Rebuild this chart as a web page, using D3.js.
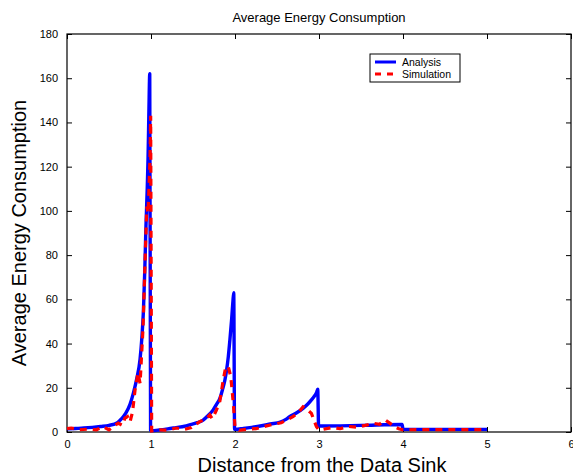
<!DOCTYPE html>
<html>
<head>
<meta charset="utf-8">
<script src="https://cdn.jsdelivr.net/npm/d3@7"></script>
<style>
  html, body { margin: 0; padding: 0; background: #fff; }
  svg { display: block; font-family: "Liberation Sans", Arial, Helvetica, sans-serif; }
</style>
</head>
<body>
<svg id="chart" width="573" height="476"></svg>
<script>
// Analysis curve: distance from sink vs. average energy consumption
const analysisX = [0.00, 0.10, 0.20, 0.30, 0.40, 0.50, 0.60, 0.65, 0.70, 0.75, 0.79, 0.83, 0.87, 0.89, 0.91, 0.925, 0.94, 0.955, 0.965, 0.975, 0.985, 0.995,
                   1.00, 1.10, 1.20, 1.30, 1.40, 1.46, 1.55, 1.62, 1.68, 1.74, 1.78, 1.82, 1.85, 1.88, 1.90, 1.92, 1.94, 1.96, 1.975, 1.985, 1.995,
                   2.00, 2.10, 2.20, 2.30, 2.42, 2.54, 2.60, 2.65, 2.73, 2.81, 2.87, 2.91, 2.95, 2.97, 2.985, 2.995,
                   3.00, 3.50, 3.99, 4.00, 5.00];
const analysisY = [1.4, 1.6, 1.8, 2.1, 2.5, 3.0, 4.2, 6.0, 8.5, 12.5, 17.6, 24, 33, 42, 55, 72, 93, 110, 124, 145, 162, 0.8,
                   0.6, 0.9, 1.4, 2.0, 2.6, 3.2, 4.2, 5.4, 7.5, 10, 12.5, 15.2, 19, 23.5, 28, 34, 42, 51, 59, 63, 1.2,
                   1.2, 1.6, 2.1, 2.7, 3.6, 4.5, 5.6, 6.9, 8.6, 10.7, 12.8, 14.5, 16.5, 17.8, 19.4, 2.7,
                   2.7, 3.0, 3.4, 1.2, 1.2];

// Simulation results
const simulationX = [0.00, 0.05, 0.15, 0.25, 0.35, 0.43, 0.50, 0.55, 0.61, 0.66, 0.69, 0.72, 0.75, 0.78, 0.81, 0.845, 0.87, 0.905, 0.93, 0.95, 0.965, 0.98, 0.988, 0.996, 1.008,
                     1.10, 1.20, 1.30, 1.40, 1.48, 1.58, 1.66, 1.70, 1.73, 1.78, 1.82, 1.86, 1.89, 1.92, 1.95, 1.98, 2.00, 2.05,
                     2.15, 2.25, 2.35, 2.46, 2.55, 2.62, 2.69, 2.75, 2.81, 2.85, 2.91, 2.97, 3.00,
                     3.05, 3.15, 3.25, 3.35, 3.45, 3.55, 3.65, 3.72, 3.79, 3.85, 3.88, 3.95, 4.00,
                     4.50, 5.00];
const simulationY = [1.5, 1.8, 1.0, 1.3, 1.0, 2.4, 1.0, 2.5, 4.0, 3.0, 6.3, 7.0, 4.5, 9.0, 19, 26.7, 22, 47, 78, 102, 99, 115, 123, 143, 0.5,
                     1.0, 0.8, 1.8, 1.2, 2.0, 4.7, 6.0, 7.7, 6.0, 10, 14, 23.5, 29.5, 29.5, 25, 13, 2.4, 0.8,
                     1.3, 1.5, 2.5, 3.5, 4.2, 5.5, 7.0, 8.5, 11.4, 10.5, 8.4, 2.4, 1.0,
                     1.2, 2.0, 1.5, 2.5, 2.2, 3.0, 3.9, 3.5, 5.4, 3.8, 2.7, 1.5, 1.0,
                     1.1, 1.1];

const xTicks = [0, 1, 2, 3, 4, 5, 6];
const yTicks = [0, 20, 40, 60, 80, 100, 120, 140, 160, 180];

const seriesNames = ["Analysis", "Simulation"];
const titleText = "Average Energy Consumption";
const xLabel = "Distance from the Data Sink";
const yLabel = "Average Energy Consumption";

const svg = d3.select("#chart");
const plot = { left: 67, right: 571, top: 34, bottom: 432 };

const x = d3.scaleLinear().domain([0, 6]).range([plot.left, plot.right]);
const y = d3.scaleLinear().domain([0, 180]).range([plot.bottom, plot.top]);

const tickLen = 5;

// Axes with inward ticks on all four sides
svg.append("g")
  .attr("transform", `translate(0,${plot.bottom})`)
  .call(d3.axisBottom(x).tickValues(xTicks).tickSizeInner(-tickLen).tickSizeOuter(0).tickPadding(8).tickFormat(d3.format("d")))
  .call(g => g.select(".domain").remove())
  .call(g => g.selectAll("text").attr("font-size", 11).attr("fill", "#000").attr("font-family", "Liberation Sans, Arial, sans-serif"));

svg.append("g")
  .attr("transform", `translate(0,${plot.top})`)
  .call(d3.axisTop(x).tickValues(xTicks).tickSizeInner(-tickLen).tickSizeOuter(0).tickFormat(""))
  .call(g => g.select(".domain").remove());

svg.append("g")
  .attr("transform", `translate(${plot.left},0)`)
  .call(d3.axisLeft(y).tickValues(yTicks).tickSizeInner(-tickLen).tickSizeOuter(0).tickPadding(9).tickFormat(d3.format("d")))
  .call(g => g.select(".domain").remove())
  .call(g => g.selectAll("text").attr("font-size", 11).attr("fill", "#000").attr("font-family", "Liberation Sans, Arial, sans-serif"));

svg.append("g")
  .attr("transform", `translate(${plot.right},0)`)
  .call(d3.axisRight(y).tickValues(yTicks).tickSizeInner(-tickLen).tickSizeOuter(0).tickFormat(""))
  .call(g => g.select(".domain").remove());

svg.selectAll(".tick line").attr("stroke", "#000");

// Box around the plot area
svg.append("rect")
  .attr("x", plot.left).attr("y", plot.top)
  .attr("width", plot.right - plot.left).attr("height", plot.bottom - plot.top)
  .attr("fill", "none").attr("stroke", "#000").attr("stroke-width", 1.2);

const smoothLine = d3.line().x(d => x(d[0])).y(d => y(d[1])).curve(d3.curveMonotoneX);
const line = d3.line().x(d => x(d[0])).y(d => y(d[1]));

const analysis = analysisX.map((v, i) => [v, analysisY[i]]);
const simulation = simulationX.map((v, i) => [v, simulationY[i]]);

svg.append("path")
  .datum(analysis)
  .attr("d", smoothLine)
  .attr("fill", "none")
  .attr("stroke", "#0000ff")
  .attr("stroke-width", 3.4)
  .attr("stroke-linejoin", "round");

svg.append("path")
  .datum(simulation)
  .attr("d", line)
  .attr("fill", "none")
  .attr("stroke", "#ff0000")
  .attr("stroke-width", 3.2)
  .attr("stroke-dasharray", "7,6");

// Title and axis labels
svg.append("text")
  .attr("x", (plot.left + plot.right) / 2).attr("y", 22)
  .attr("text-anchor", "middle").attr("font-size", 13).text(titleText);

svg.append("text")
  .attr("x", (plot.left + plot.right) / 2 + 3).attr("y", 472)
  .attr("text-anchor", "middle").attr("font-size", 20).text(xLabel);

svg.append("text")
  .attr("transform", `translate(26,${(plot.top + plot.bottom) / 2}) rotate(-90)`)
  .attr("text-anchor", "middle").attr("font-size", 20).text(yLabel);

// Legend
const legend = svg.append("g").attr("transform", "translate(370,54)");
legend.append("rect")
  .attr("width", 90).attr("height", 28)
  .attr("fill", "#fff").attr("stroke", "#000").attr("stroke-width", 1);
const legendStyles = [
  { color: "#0000ff", dash: null },
  { color: "#ff0000", dash: "6,6" }
];
seriesNames.forEach((name, i) => {
  const ly = 8 + i * 12;
  legend.append("line")
    .attr("x1", 5).attr("x2", 26).attr("y1", ly).attr("y2", ly)
    .attr("stroke", legendStyles[i].color).attr("stroke-width", 3)
    .attr("stroke-dasharray", legendStyles[i].dash);
  legend.append("text")
    .attr("x", 32).attr("y", ly + 4).attr("font-size", 10.5).text(name);
});
</script>
</body>
</html>
